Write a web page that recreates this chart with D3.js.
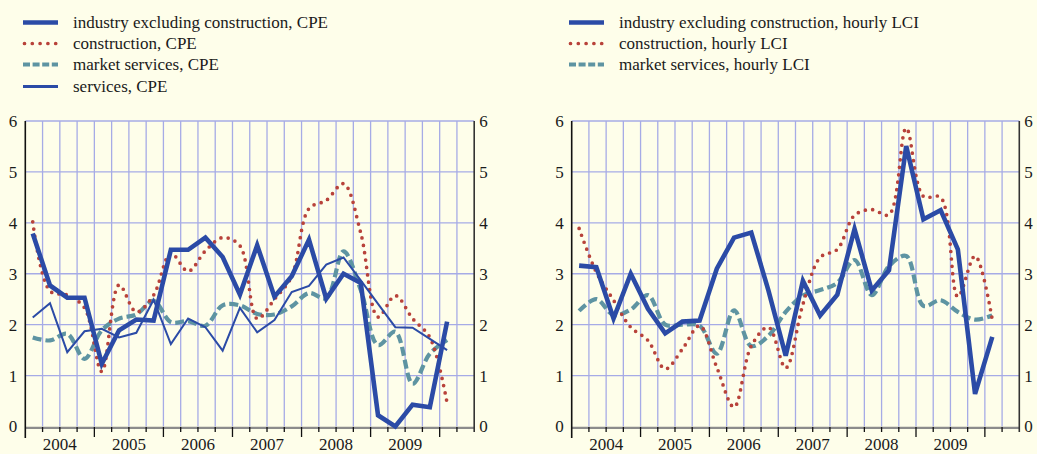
<!DOCTYPE html>
<html>
<head>
<meta charset="utf-8">
<script src="https://cdn.jsdelivr.net/npm/d3@7"></script>
<style>
  html, body { margin: 0; padding: 0; background: #fefeea; }
  svg { display: block; }
  text { font-family: "Liberation Serif", "Times New Roman", serif; fill: #1a1a1a; }
</style>
</head>
<body>
<svg id="chart" width="1037" height="454"></svg>
<script>
// ---------- DATA ----------
const quarters = ["2004Q1","2004Q2","2004Q3","2004Q4","2005Q1","2005Q2","2005Q3","2005Q4",
  "2006Q1","2006Q2","2006Q3","2006Q4","2007Q1","2007Q2","2007Q3","2007Q4",
  "2008Q1","2008Q2","2008Q3","2008Q4","2009Q1","2009Q2","2009Q3","2009Q4",
  "2010Q1","2010Q2"];
const yearLabels = ["2004","2005","2006","2007","2008","2009"];
const yTicks = [0,1,2,3,4,5,6];

// left panel: compensation per employee (CPE)
const industryCPE     = [3.79,2.77,2.53,2.53,1.23,1.89,2.10,2.08,3.47,3.47,3.71,3.33,2.59,3.56,2.55,2.95,3.67,2.51,3.00,2.82,0.22,0.00,0.43,0.38,2.06];
const constructionCPE = [4.02,2.66,2.58,2.33,1.08,2.78,2.25,2.58,3.40,3.05,3.45,3.71,3.55,2.12,2.50,2.95,4.28,4.44,4.77,3.80,2.15,2.57,2.12,1.75,0.46];
const marketCPE       = [1.75,1.69,1.82,1.33,1.89,2.12,2.20,2.47,2.05,2.07,1.98,2.38,2.38,2.21,2.20,2.36,2.62,2.52,3.44,2.68,1.60,1.86,0.84,1.43,1.70];
const servicesCPE     = [2.14,2.42,1.46,1.87,1.92,1.75,1.84,2.49,1.62,2.12,1.95,1.49,2.33,1.85,2.09,2.64,2.76,3.18,3.32,2.87,2.41,1.95,1.94,1.72,1.50];

// right panel: hourly labour cost index (LCI)
const industryLCI     = [3.16,3.13,2.12,3.00,2.31,1.83,2.06,2.08,3.10,3.71,3.81,2.67,1.39,2.86,2.18,2.59,3.88,2.67,3.07,5.51,4.07,4.25,3.48,0.64,1.76];
const constructionLCI = [3.89,3.03,2.48,1.95,1.69,1.13,1.52,1.98,1.16,0.38,1.58,1.95,1.15,2.40,3.32,3.48,4.15,4.26,4.16,5.86,4.52,4.50,2.55,3.35,2.10];
const marketLCI       = [2.27,2.50,2.19,2.30,2.58,2.00,2.00,1.98,1.43,2.28,1.58,1.78,2.25,2.57,2.68,2.82,3.27,2.58,3.15,3.35,2.37,2.48,2.25,2.10,2.18];

const leftNames  = ["industry excluding construction, CPE","construction, CPE","market services, CPE","services, CPE"];
const rightNames = ["industry excluding construction, hourly LCI","construction, hourly LCI","market services, hourly LCI"];

// ---------- STYLES ----------
const C_BLUE = "#2b4ba6", C_RED = "#b8423a", C_TEAL = "#5e94a2", C_GRID = "#a6abe6";
const styles = {
  industry:     {stroke: C_BLUE, width: 4.6, dash: null, cap: "butt", curve: d3.curveLinear},
  construction: {stroke: C_RED,  width: 3.7, dash: "0,7.4", cap: "round", curve: d3.curveCatmullRom.alpha(0.5)},
  market:       {stroke: C_TEAL, width: 4.2, dash: "9,4", cap: "butt", curve: d3.curveCatmullRom.alpha(0.5)},
  services:     {stroke: C_BLUE, width: 2.0, dash: null, cap: "butt", curve: d3.curveLinear}
};

const svg = d3.select("#chart");
svg.append("rect").attr("width",1037).attr("height",454).attr("fill","#fefeea");

function panel(cfg) {
  const g = svg.append("g");
  const x = d3.scaleBand().domain(quarters).range([cfg.x0, cfg.x1]);
  const y = d3.scaleLinear().domain([0,6]).range([426.5, 121]);
  const bw = x.bandwidth();
  const px = i => x(quarters[i]) + bw/2 - 1.2;

  // horizontal grid
  g.selectAll(".hg").data(yTicks.filter(v => v > 0)).enter().append("line")
    .attr("x1", cfg.x0).attr("x2", cfg.x1)
    .attr("y1", d => y(d)).attr("y2", d => y(d))
    .attr("stroke", C_GRID).attr("stroke-width", 1.3);
  // vertical grid at quarter boundaries
  g.selectAll(".vg").data(quarters.slice(1)).enter().append("line")
    .attr("x1", d => x(d)).attr("x2", d => x(d))
    .attr("y1", y(6)).attr("y2", y(0))
    .attr("stroke", C_GRID).attr("stroke-width", 1.3);

  // bottom axis line (grey) and ticks
  g.append("line").attr("x1", cfg.x0).attr("x2", cfg.x1)
    .attr("y1", 427.8).attr("y2", 427.8).attr("stroke", "#8c8c8c").attr("stroke-width", 2.2);
  g.selectAll(".qt").data(quarters.slice(1)).enter().append("line")
    .attr("x1", d => x(d)).attr("x2", d => x(d))
    .attr("y1", 427).attr("y2", d => d.endsWith("Q1") ? 437 : 432)
    .attr("stroke", "#111").attr("stroke-width", 1.3);

  // left and right axes
  g.append("line").attr("x1", cfg.x0).attr("x2", cfg.x0).attr("y1", y(6)).attr("y2", 438)
    .attr("stroke", "#111").attr("stroke-width", 1.6);
  g.append("line").attr("x1", cfg.x1).attr("x2", cfg.x1).attr("y1", y(6)).attr("y2", 432)
    .attr("stroke", "#333").attr("stroke-width", 1.6);

  // tick labels via d3 axes
  const la = g.append("g").attr("transform", `translate(${cfg.x0},0)`)
    .call(d3.axisLeft(y).tickValues(yTicks).tickFormat(d3.format("d")).tickSize(0).tickPadding(cfg.padL));
  const ra = g.append("g").attr("transform", `translate(${cfg.x1},0)`)
    .call(d3.axisRight(y).tickValues(yTicks).tickFormat(d3.format("d")).tickSize(0).tickPadding(cfg.padR));
  [la, ra].forEach(a => {
    a.select(".domain").remove();
    a.selectAll("text").style("font-family", '"Liberation Serif", serif').style("font-size", "17px").attr("fill", "#1a1a1a");
  });

  // year labels centred on 4-quarter spans
  g.selectAll(".yl").data(yearLabels).enter().append("text")
    .attr("x", d => x(d + "Q1") + 2*bw)
    .attr("y", 449.5)
    .attr("text-anchor", "middle")
    .style("font-size", "17px")
    .text(d => d);

  // series
  cfg.series.forEach(s => {
    const st = styles[s.kind];
    const line = d3.line().x((d,i) => px(i)).y(d => y(d)).curve(st.curve);
    g.append("path").datum(s.values)
      .attr("d", line)
      .attr("fill", "none")
      .attr("stroke", st.stroke)
      .attr("stroke-width", st.width)
      .attr("stroke-linecap", st.cap)
      .attr("stroke-linejoin", "miter")
      .attr("stroke-dasharray", st.dash);
  });

  // legend
  const rows = [22.5, 43.5, 64.5, 86.5];
  cfg.series.slice().sort((a,b)=>a.legendOrder-b.legendOrder).forEach((s, k) => {
    const st = styles[s.kind];
    const ly = rows[k];
    g.append("line").attr("x1", cfg.lx + (s.kind === "construction" ? 1.5 : 0)).attr("x2", cfg.lx + 35)
      .attr("y1", ly).attr("y2", ly)
      .attr("stroke", st.stroke)
      .attr("stroke-width", s.kind === "services" ? 3.2 : (s.kind === "industry" ? 4.6 : st.width))
      .attr("stroke-linecap", st.cap)
      .attr("stroke-dasharray", s.kind === "construction" ? "0,7.8" : (s.kind === "market" ? "7,2.6" : null));
    g.append("text").attr("x", cfg.lx + 50).attr("y", ly + 5.8)
      .style("font-size", "17px").text(s.name);
  });
}

panel({
  x0: 25.3, x1: 474.2, padL: 8, padR: 5, lx: 23,
  series: [
    {kind: "market",       values: marketCPE,       name: leftNames[2], legendOrder: 2},
    {kind: "construction", values: constructionCPE, name: leftNames[1], legendOrder: 1},
    {kind: "services",     values: servicesCPE,     name: leftNames[3], legendOrder: 3},
    {kind: "industry",     values: industryCPE,     name: leftNames[0], legendOrder: 0}
  ]
});

panel({
  x0: 571.7, x1: 1019.3, padL: 8, padR: 5, lx: 569,
  series: [
    {kind: "market",       values: marketLCI,       name: rightNames[2], legendOrder: 2},
    {kind: "construction", values: constructionLCI, name: rightNames[1], legendOrder: 1},
    {kind: "industry",     values: industryLCI,     name: rightNames[0], legendOrder: 0}
  ]
});
</script>
</body>
</html>
